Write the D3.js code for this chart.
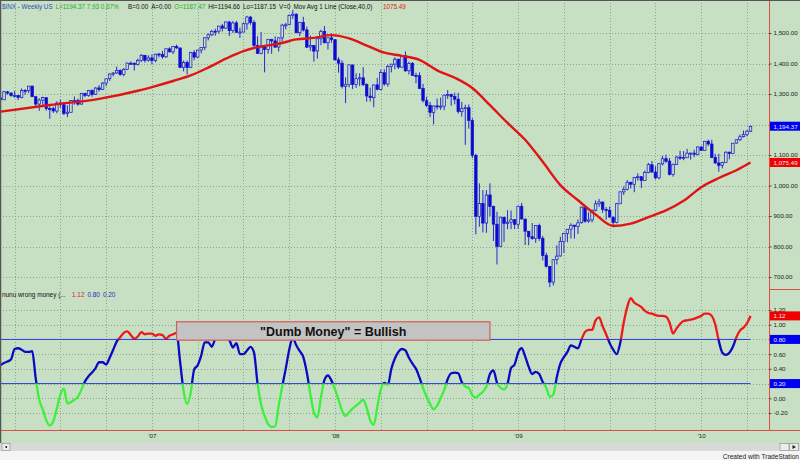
<!DOCTYPE html>
<html><head><meta charset="utf-8">
<script src="https://cdn.jsdelivr.net/npm/d3@7"></script>
<style>
html,body{margin:0;padding:0;background:#fff;}
svg{display:block;font-family:Arial,"Liberation Sans",sans-serif;}
</style></head><body>
<svg id="c" width="800" height="460"></svg>
<script>
// ---------------- DATA ----------------
const startDate = new Date(2006, 2, 10); // first weekly bar (Friday)
const opens = [
1287,1281,1307,1303,1295,1295,1289,1311,1311,1326,
1291,1267,1280,1288,1252,1252,1244,1270,1265,1236,
1240,1279,1279,1267,1302,1295,1311,1299,1320,1315,
1336,1350,1366,1369,1377,1364,1381,1401,1401,1397,
1410,1427,1411,1418,1410,1431,1430,1422,1448,1438,
1456,1451,1387,1403,1387,1436,1421,1444,1453,1484,
1494,1506,1506,1523,1516,1536,1508,1533,1503,1503,
1530,1552,1534,1459,1433,1454,1446,1479,1474,1454,
1484,1526,1527,1558,1562,1501,1535,1510,1454,1459,
1441,1481,1505,1468,1484,1478,1412,1401,1325,1331,
1395,1331,1350,1353,1331,1293,1288,1330,1315,1370,
1333,1390,1398,1414,1388,1425,1376,1400,1361,1360,
1318,1278,1263,1239,1261,1258,1260,1296,1298,1292,
1283,1242,1252,1255,1213,1099,899,941,877,969,
931,873,800,896,876,880,888,873,932,890,
850,832,826,869,827,770,735,683,757,769,
816,843,857,870,866,878,929,883,887,919,
940,946,921,919,896,879,940,979,987,1010,
1004,1026,1029,1016,1043,1068,1044,1025,1071,1088,
1080,1036,1069,1093,1091,1091,1106,1106,1102,1126,
1115,1145,1136,1092,1074,1066,1075,1109,1105,1139,
1150,1160,1167,1178];
const highs = [
1291,1310,1310,1306,1310,1297,1318,1316,1326,1327,
1293,1286,1291,1289,1260,1258,1276,1281,1273,1263,
1280,1292,1285,1303,1304,1312,1315,1322,1329,1339,
1351,1367,1372,1390,1381,1385,1403,1407,1403,1416,
1431,1428,1427,1430,1432,1435,1441,1449,1453,1457,
1462,1452,1410,1410,1438,1444,1445,1453,1485,1499,
1510,1514,1523,1530,1537,1540,1539,1540,1517,1534,
1556,1556,1542,1489,1503,1456,1480,1481,1489,1485,
1530,1533,1561,1576,1564,1536,1553,1521,1492,1460,
1488,1511,1523,1485,1499,1479,1421,1410,1355,1397,
1397,1368,1368,1388,1335,1321,1331,1353,1380,1381,
1396,1399,1421,1416,1426,1440,1406,1405,1370,1371,
1333,1291,1274,1262,1285,1288,1298,1313,1301,1304,
1304,1274,1265,1266,1221,1104,1007,985,985,1007,
934,914,897,897,919,918,889,934,943,891,
851,877,870,875,835,780,736,759,804,832,
845,857,876,871,889,930,931,912,920,951,
956,946,929,931,899,943,980,997,1018,1013,
1028,1040,1031,1049,1074,1080,1063,1073,1097,1101,
1090,1072,1097,1114,1113,1120,1107,1117,1128,1130,
1146,1150,1150,1104,1104,1078,1112,1112,1139,1151,
1167,1180,1182,1196];
const lows = [
1268,1281,1298,1291,1288,1280,1286,1298,1303,1290,
1256,1245,1260,1245,1219,1238,1237,1255,1231,1224,
1240,1265,1262,1265,1290,1291,1291,1297,1308,1313,
1326,1343,1358,1366,1360,1358,1379,1396,1377,1394,
1405,1403,1406,1397,1404,1420,1416,1418,1437,1431,
1448,1385,1374,1364,1385,1411,1417,1433,1444,1476,
1490,1491,1498,1505,1513,1490,1500,1500,1484,1503,
1511,1527,1455,1433,1430,1371,1432,1432,1452,1439,
1472,1512,1526,1546,1500,1490,1505,1451,1441,1406,
1416,1460,1467,1446,1468,1411,1370,1318,1270,1322,
1316,1320,1326,1326,1275,1275,1257,1312,1312,1327,
1324,1371,1381,1382,1386,1373,1364,1360,1335,1317,
1272,1257,1224,1200,1249,1248,1247,1284,1261,1266,
1236,1226,1133,1186,1090,840,865,846,845,899,
818,741,798,815,857,857,857,858,888,805,
804,822,812,818,754,731,667,672,741,767,
779,814,826,826,841,875,878,878,879,915,
930,910,888,896,869,876,940,969,984,990,
978,1016,992,1015,1040,1041,1020,1020,1066,1074,
1033,1029,1067,1084,1083,1091,1085,1093,1099,1114,
1115,1129,1090,1071,1045,1056,1075,1086,1104,1138,
1146,1157,1161,1175];
const closes = [
1281.42,1307.25,1302.95,1294.83,1295.50,1289.12,1311.28,1310.61,1325.76,1291.24,
1267.03,1280.16,1288.22,1252.30,1251.54,1244.50,1270.20,1265.48,1236.20,1240.29,
1278.55,1279.36,1266.74,1302.30,1295.09,1311.01,1298.92,1319.66,1314.78,1335.85,
1349.59,1365.62,1368.60,1377.34,1364.30,1380.90,1401.20,1400.95,1396.71,1409.84,
1427.09,1410.76,1418.30,1409.71,1430.73,1430.50,1422.18,1448.39,1438.06,1455.54,
1451.19,1387.17,1402.84,1386.95,1436.11,1420.86,1443.76,1452.85,1484.35,1494.07,
1505.62,1505.85,1522.75,1515.73,1536.34,1507.67,1532.91,1502.56,1503.35,1530.44,
1552.50,1534.10,1458.95,1433.06,1453.64,1445.94,1479.37,1473.99,1453.55,1484.25,
1525.75,1526.75,1557.59,1561.80,1500.63,1535.28,1509.65,1453.70,1458.74,1440.70,
1481.14,1504.66,1467.95,1484.46,1478.49,1411.63,1401.02,1325.19,1330.61,1395.42,
1331.29,1349.99,1353.11,1330.63,1293.37,1288.14,1329.51,1315.22,1370.40,1332.83,
1390.33,1397.84,1413.90,1388.28,1425.35,1375.93,1400.38,1360.68,1360.03,1317.93,
1278.38,1262.90,1239.49,1260.68,1257.76,1260.31,1296.32,1298.20,1292.20,1282.83,
1242.31,1251.70,1255.08,1213.27,1099.23,899.22,940.55,876.77,968.75,930.99,
873.29,800.03,896.24,876.07,879.73,887.88,872.80,931.80,890.35,850.12,
831.95,825.88,868.60,826.84,770.05,735.09,683.38,756.55,768.54,815.94,
842.50,856.56,869.60,866.23,877.52,929.23,882.88,887.00,919.14,940.09,
946.21,921.23,918.90,896.42,879.13,940.38,979.26,987.48,1010.48,1004.09,
1026.13,1028.93,1016.40,1042.73,1068.30,1044.38,1025.21,1071.49,1087.68,1079.60,
1036.19,1069.30,1093.48,1091.38,1091.49,1105.98,1106.41,1102.47,1126.48,1115.10,
1144.98,1136.03,1091.76,1073.87,1066.19,1075.51,1109.17,1104.49,1138.70,1149.99,
1159.90,1166.59,1178.10,1194.37];
// 40-week moving average, sampled at these bar numbers
const maWeeks = [0,14,28,39,44,49,54,59,64,69,74,79,84,89,94,99,104,109,114,119,124,129,134,139,144,149,154,159,164,169,174,179,184,189,194,199,204,209,213];
const maValues = [1242,1264,1284,1310.58,1325.95,1342.61,1360.74,1386.72,1415.82,1440.74,1455.91,1464.60,1479.00,1484.08,1492.89,1482.09,1458.90,1435.38,1424.96,1411.91,1377.57,1353.37,1319.49,1263.30,1204.98,1149.90,1077.59,1001.20,951.53,904.74,867.25,874.89,896.31,918.20,949.66,994.59,1024.60,1050.09,1075.49];
// "nunu wrong money" oscillator, one value per weekly bar
const moneyValues = [
0.45,0.48,0.50,0.53,0.67,0.68,0.66,0.63,0.63,0.64,
0.27,-0.02,-0.15,-0.30,-0.37,-0.31,-0.14,0.05,0.13,-0.07,
-0.05,-0.02,0.02,0.12,0.23,0.30,0.35,0.41,0.49,0.49,
0.46,0.55,0.66,0.77,0.83,0.89,0.91,0.86,0.81,0.84,
0.90,0.87,0.88,0.88,0.85,0.87,0.86,0.81,0.85,0.87,
0.89,0.50,0.10,-0.08,0.07,0.39,0.45,0.58,0.76,0.76,
0.70,0.81,0.85,0.85,0.82,0.79,0.69,0.75,0.60,0.60,
0.65,0.70,0.62,0.20,-0.08,-0.24,-0.35,-0.39,-0.38,-0.10,
0.16,0.40,0.66,0.82,0.72,0.64,0.56,0.35,0.06,-0.19,
-0.26,0.01,0.25,0.31,0.24,0.12,-0.02,-0.17,-0.24,-0.19,
-0.14,-0.10,-0.06,-0.02,-0.13,-0.30,-0.36,-0.12,0.12,0.21,
0.18,0.40,0.54,0.63,0.67,0.65,0.55,0.47,0.40,0.28,
0.14,0.02,-0.08,-0.15,-0.10,0.00,0.11,0.26,0.34,0.35,
0.34,0.22,0.16,0.14,0.04,0.01,0.05,0.09,0.16,0.33,
0.38,0.21,0.14,0.12,0.20,0.41,0.46,0.62,0.68,0.57,
0.43,0.33,0.36,0.33,0.22,0.14,0.02,0.05,0.29,0.47,
0.56,0.63,0.72,0.70,0.68,0.80,0.90,0.93,0.93,1.06,
1.10,0.98,0.87,0.75,0.66,0.60,0.75,1.03,1.24,1.36,
1.30,1.27,1.24,1.19,1.16,1.15,1.13,1.12,1.12,1.11,
1.03,0.88,0.95,1.01,1.05,1.06,1.07,1.08,1.10,1.12,
1.15,1.15,1.12,1.00,0.78,0.62,0.59,0.62,0.70,0.83,
0.92,0.96,1.02,1.12];
const priceTicks = [700,800,900,1000,1100,1200,1300,1400,1500];
const moneyTicks = [1.2,1.0,0.8,0.6,0.4,0.2,0.0,-0.2];
const moneyLevels = [0.8,0.2];
const note = {fromWeek:50, toWeek:139, top:1.04, bottom:0.79, text:'"Dumb Money" = Bullish'};
const titleParts = [
  {t:"$INX - Weekly  US", c:"#2f4fb4", x:2},
  {t:"L=1194.37  7.93  0.67%", c:"#22b022", x:55},
  {t:"B=0.00", c:"#111", x:128},
  {t:"A=0.00", c:"#111", x:148},
  {t:"O=1187.47", c:"#22b022", x:170},
  {t:"Hi=1194.66", c:"#111", x:200},
  {t:"Lo=1187.15", c:"#111", x:231},
  {t:"V=0", c:"#111", x:265},
  {t:"Mov Avg 1 Line (Close,40,0)", c:"#111", x:280},
  {t:"1075.49", c:"#e02020", x:383}
];
const lowerTitle = [
  {t:"nunu wrong money (...", c:"#111", x:2},
  {t:"1.12", c:"#e02020", x:72},
  {t:"0.80", c:"#2030c0", x:87},
  {t:"0.20", c:"#2030c0", x:102}
];

// ---------------- LAYOUT ----------------
const W = 800, H = 460;
const plotR = 769.5, upperTop = 0, upperBot = 289, lowerBot = 430;
const BG = "#c7dfc3";
const svg = d3.select("#c");

const n = closes.length;
const dates = d3.range(n).map(i => d3.timeDay.offset(startDate, 7 * i));
const x = d3.scaleLinear().domain([0, n - 1]).range([0.5, 750.5]);
const step = x(1) - x(0);
const yP = d3.scaleLinear().domain([700, 1500]).range([277, 33]);
const yM = d3.scaleLinear().domain([-0.2, 1.2]).range([413, 310]);

// backgrounds
svg.append("rect").attr("x",0).attr("y",0).attr("width",W).attr("height",443).attr("fill",BG);
svg.append("rect").attr("x",0).attr("y",443).attr("width",W).attr("height",8).attr("fill","#d9d9d9");
svg.append("rect").attr("x",0).attr("y",451).attr("width",W).attr("height",9).attr("fill","#f4f4f4");

const defs = svg.append("defs");
function clip(id, x0, y0, w, h) {
  defs.append("clipPath").attr("id", id).append("rect")
    .attr("x", x0).attr("y", y0).attr("width", w).attr("height", h);
}
clip("cu", 0, upperTop, plotR, upperBot - upperTop);
clip("cl", 0, upperBot, plotR, lowerBot - upperBot);
clip("cr", 0, upperBot, plotR, yM(0.8) - upperBot);
clip("cb", 0, yM(0.8), plotR, yM(0.2) - yM(0.8));
clip("cg", 0, yM(0.2), plotR, lowerBot - yM(0.2));

// grid
const gridCol = "#7e977c";
const grid = svg.append("g").attr("stroke", gridCol).attr("stroke-width", 0.8).attr("stroke-dasharray", "1,2");
grid.selectAll(".hp").data(priceTicks).join("line")
  .attr("x1", 0).attr("x2", plotR).attr("y1", d => Math.round(yP(d)) + 0.5).attr("y2", d => Math.round(yP(d)) + 0.5);
grid.selectAll(".hm").data(moneyTicks).join("line")
  .attr("x1", 0).attr("x2", plotR).attr("y1", d => Math.round(yM(d)) + 0.5).attr("y2", d => Math.round(yM(d)) + 0.5);
const quarterStarts = d3.range(1, n).filter(i => Math.floor(dates[i].getMonth() / 3) !== Math.floor(dates[i - 1].getMonth() / 3));
const yearStarts = d3.range(1, n).filter(i => dates[i].getFullYear() !== dates[i - 1].getFullYear());
grid.selectAll(".v").data(quarterStarts).join("line")
  .attr("x1", d => Math.round(x(d)) + 0.5).attr("x2", d => Math.round(x(d)) + 0.5)
  .attr("y1", 0).attr("y2", lowerBot);

// ---------------- UPPER PANEL: candles + MA ----------------
const up = svg.append("g").attr("clip-path", "url(#cu)");
const candleCol = "#1414d2";
const bw = step * 0.72;
const bars = up.selectAll(".bar").data(d3.range(n)).join("g");
bars.append("line")
  .attr("x1", i => x(i)).attr("x2", i => x(i))
  .attr("y1", i => yP(highs[i])).attr("y2", i => yP(lows[i]))
  .attr("stroke", candleCol).attr("stroke-width", 0.9);
bars.append("rect")
  .attr("x", i => x(i) - bw / 2)
  .attr("y", i => yP(Math.max(opens[i], closes[i])))
  .attr("width", bw)
  .attr("height", i => Math.max(1, Math.abs(yP(opens[i]) - yP(closes[i]))))
  .attr("fill", i => closes[i] >= opens[i] ? BG : "#0a0ad0")
  .attr("stroke", candleCol).attr("stroke-width", 0.7);

const maLine = d3.line().x((d, k) => x(maWeeks[k])).y(d => yP(d)).curve(d3.curveMonotoneX);
up.append("path").attr("d", maLine(maValues)).attr("fill", "none")
  .attr("stroke", "#e01414").attr("stroke-width", 2.4);

// ---------------- LOWER PANEL ----------------
const lo = svg.append("g").attr("clip-path", "url(#cl)");
lo.selectAll(".lvl").data(moneyLevels).join("line")
  .attr("x1", x(0)).attr("x2", x(n - 1))
  .attr("y1", d => yM(d)).attr("y2", d => yM(d))
  .attr("stroke", "#2c3fd8").attr("stroke-width", 1);
const moneyLine = d3.line().x((d, i) => x(i)).y(d => yM(d)).curve(d3.curveMonotoneX);
const md = moneyLine(moneyValues);
[["cr", "#ee1a1a"], ["cb", "#0a0ac4"], ["cg", "#3df03d"]].forEach(([c, col]) => {
  lo.append("g").attr("clip-path", `url(#${c})`).append("path")
    .attr("d", md).attr("fill", "none").attr("stroke", col)
    .attr("stroke-width", 2.3).attr("stroke-linejoin", "round");
});
// annotation
const ann = svg.append("g");
ann.append("rect")
  .attr("x", x(note.fromWeek)).attr("y", yM(note.top))
  .attr("width", x(note.toWeek) - x(note.fromWeek)).attr("height", yM(note.bottom) - yM(note.top))
  .attr("fill", "#c3c3c3").attr("stroke", "#d65a5a").attr("stroke-width", 1.2);
ann.append("text")
  .attr("x", (x(note.fromWeek) + x(note.toWeek)) / 2).attr("y", yM(note.bottom) - 4)
  .attr("text-anchor", "middle").attr("font-size", "12.5px").attr("font-weight", "bold")
  .attr("fill", "#111").text(note.text);

// ---------------- FRAME ----------------
const red = "#df4a4a";
svg.append("line").attr("x1", plotR).attr("x2", plotR).attr("y1", 0).attr("y2", lowerBot).attr("stroke", red).attr("stroke-width", 1);
svg.append("line").attr("x1", 0).attr("x2", W).attr("y1", lowerBot + 0.5).attr("y2", lowerBot + 0.5).attr("stroke", red).attr("stroke-width", 1);
svg.append("line").attr("x1", plotR).attr("x2", W).attr("y1", upperBot + 0.5).attr("y2", upperBot + 0.5).attr("stroke", red).attr("stroke-width", 1);
svg.append("line").attr("x1", 0.5).attr("x2", 0.5).attr("y1", 0).attr("y2", 443).attr("stroke", "#555").attr("stroke-width", 1.5);
svg.append("line").attr("x1", 0).attr("x2", W).attr("y1", 0.5).attr("y2", 0.5).attr("stroke", "#555").attr("stroke-width", 1.2);

// ---------------- AXES ----------------
function styleAxis(g) {
  g.select(".domain").remove();
  g.selectAll("line").attr("stroke", "#444");
  g.selectAll("text").attr("font-size", "6.2px").attr("fill", "#222").attr("font-family", "Arial, 'Liberation Sans', sans-serif");
}
svg.append("g").attr("transform", `translate(${plotR},0)`)
  .call(d3.axisRight(yP).tickValues(priceTicks).tickSize(2).tickPadding(2).tickFormat(d3.format(",.2f")))
  .call(styleAxis);
svg.append("g").attr("transform", `translate(${plotR},0)`)
  .call(d3.axisRight(yM).tickValues(moneyTicks).tickSize(2).tickPadding(2).tickFormat(d => d.toFixed(2)))
  .call(styleAxis);
svg.append("g").attr("transform", `translate(0,${lowerBot})`)
  .call(d3.axisBottom(x).tickValues(yearStarts).tickSize(0).tickPadding(4)
    .tickFormat(i => "'" + d3.timeFormat("%y")(dates[i])))
  .call(styleAxis);

// value boxes on the right axis
const boxes = [
  {v: yP(closes[n - 1]), t: d3.format(",.2f")(closes[n - 1]), c: "#0000f0"},
  {v: yP(maValues[maValues.length - 1]), t: d3.format(",.2f")(maValues[maValues.length - 1]), c: "#f00000"},
  {v: yM(moneyValues[n - 1]), t: moneyValues[n - 1].toFixed(2), c: "#f00000"},
  {v: yM(moneyLevels[0]), t: moneyLevels[0].toFixed(2), c: "#0000f0"},
  {v: yM(moneyLevels[1]), t: moneyLevels[1].toFixed(2), c: "#0000f0"}
];
const bx = svg.append("g");
bx.selectAll("rect").data(boxes).join("rect")
  .attr("x", plotR + 0.5).attr("y", d => d.v - 4.5).attr("width", W - plotR).attr("height", 9).attr("fill", d => d.c);
bx.selectAll("text").data(boxes).join("text")
  .attr("x", plotR + 4).attr("y", d => d.v + 2.3).attr("font-size", "6.2px").attr("fill", "#e8e8ff").text(d => d.t);

// ---------------- TITLES (uniform font, each piece at its slot or just after the previous one) ----------------
function flow(parts, y, fs) {
  const g = svg.append("g");
  let end = -Infinity;
  g.selectAll("text").data(parts).join("text")
    .attr("y", y).attr("font-size", fs + "px").attr("fill", d => d.c).text(d => d.t)
    .each(function (d) {
      const px = Math.max(d.x, end + 3);
      d3.select(this).attr("x", px);
      end = px + this.getComputedTextLength();
    });
}
flow(titleParts, 8.5, 6.3);
flow(lowerTitle, 297, 6.4);

// ---------------- SCROLLBAR + FOOTER ----------------
svg.append("rect").attr("x", 2).attr("y", 443.5).attr("width", 8).attr("height", 7).attr("fill", "#ececec").attr("stroke", "#888").attr("stroke-width", 0.6);
svg.append("rect").attr("x", 5.5).attr("y", 446).attr("width", 1.5).attr("height", 2).attr("fill", "#222");
svg.append("rect").attr("x", 780).attr("y", 443.5).attr("width", 9).attr("height", 7).attr("fill", "#ececec").attr("stroke", "#888").attr("stroke-width", 0.6);
svg.append("rect").attr("x", 789.5).attr("y", 443.5).attr("width", 9).attr("height", 7).attr("fill", "#ececec").attr("stroke", "#888").attr("stroke-width", 0.6);
svg.append("path").attr("d", "M792.5,445 L796,447 L792.5,449 Z").attr("fill", "#222");
svg.append("text").attr("x", 799).attr("y", 458.5).attr("text-anchor", "end").attr("font-size", "6.6px").attr("fill", "#222").text("Created with TradeStation");
</script>
</body></html>
